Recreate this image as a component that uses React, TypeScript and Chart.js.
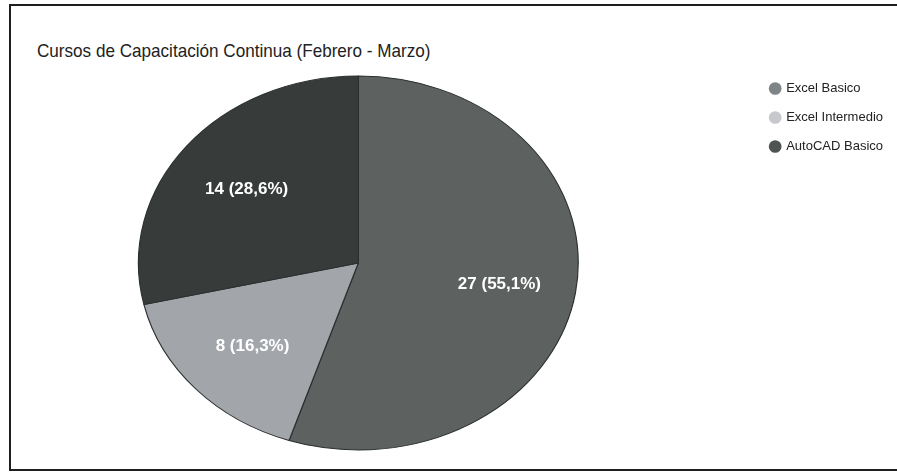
import { useEffect, useRef } from "react";
import { Chart, registerables } from "chart.js";

Chart.register(...registerables);

const titleText = "Cursos de Capacitación Continua (Febrero - Marzo)";
const categories = ["Excel Basico", "Excel Intermedio", "AutoCAD Basico"];
const values = [27, 8, 14];
const sliceColors = ["#5d6261", "#a2a5aa", "#373c3b"];
const legendColors = ["#7f8486", "#c6c8cc", "#4f5453"];

const FONT = "'Liberation Sans', Arial, Helvetica, sans-serif";
const STRETCH_X = 1.176;
const LABEL_RADIUS = 0.65;
const CANVAS_SHIFT = 38;

export default function App() {
  const ref = useRef<HTMLCanvasElement>(null);

  useEffect(() => {
    if (!ref.current) return;
    const total = values.reduce((a, b) => a + b, 0);

    const ellipsePlugin = {
      id: "ellipseAndLabels",
      beforeDatasetsDraw(chart: any) {
        const arc = chart.getDatasetMeta(0).data[0];
        const ctx = chart.ctx;
        ctx.save();
        ctx.translate(arc.x, 0);
        ctx.scale(STRETCH_X, 1);
        ctx.translate(-arc.x, 0);
      },
      afterDatasetsDraw(chart: any) {
        const ctx = chart.ctx;
        ctx.restore();
        const meta = chart.getDatasetMeta(0);
        ctx.save();
        ctx.font = `bold 17px ${FONT}`;
        ctx.fillStyle = "#ffffff";
        ctx.textAlign = "center";
        ctx.textBaseline = "middle";
        meta.data.forEach((el: any, i: number) => {
          const { x, y, startAngle, endAngle, outerRadius } = el.getProps(
            ["x", "y", "startAngle", "endAngle", "outerRadius"],
            true
          );
          const mid = (startAngle + endAngle) / 2;
          const r = outerRadius * LABEL_RADIUS;
          const lx = x + Math.cos(mid) * r * STRETCH_X;
          const ly = y + Math.sin(mid) * r + 2;
          const pct = ((values[i] / total) * 100).toFixed(1).replace(".", ",");
          ctx.fillText(`${values[i]} (${pct}%)`, lx, ly);
        });
        ctx.restore();
      },
    };

    const chart = new Chart(ref.current, {
      type: "pie",
      data: {
        labels: categories,
        datasets: [
          {
            data: values,
            backgroundColor: sliceColors,
            borderColor: "#2c3030",
            borderWidth: 1,
            radius: 187,
          },
        ],
      },
      options: {
        animation: false,
        responsive: true,
        maintainAspectRatio: false,
        layout: { padding: { top: 66, bottom: 13, left: 0, right: 4 } },
        plugins: {
          title: { display: false },
          tooltip: { enabled: false },
          legend: {
            position: "right",
            align: "start",
            labels: {
              usePointStyle: true,
              pointStyle: "circle",
              boxWidth: 9,
              boxHeight: 9,
              padding: 16,
              color: "#222222",
              font: { family: FONT, size: 13 },
              generateLabels: () =>
                categories.map((c, i) => ({
                  text: c,
                  fillStyle: legendColors[i],
                  strokeStyle: legendColors[i],
                  lineWidth: 0,
                  hidden: false,
                  index: i,
                  pointStyle: "circle",
                  fontColor: "#222222",
                })),
            },
          },
        },
      },
      plugins: [ellipsePlugin],
    });

    return () => chart.destroy();
  }, []);

  return (
    <div
      style={{
        position: "fixed",
        left: 0,
        top: 0,
        width: 897,
        height: 473,
        background: "#fff",
        overflow: "hidden",
      }}
    >
      <div
        style={{
          position: "absolute",
          left: 9,
          top: 4,
          width: 888,
          height: 467,
          boxSizing: "border-box",
          borderLeft: "2px solid #1e1e1e",
          borderTop: "2px solid #1e1e1e",
          borderBottom: "2px solid #1e1e1e",
        }}
      />
      <div
        style={{
          position: "absolute",
          left: 37,
          top: 41,
          fontFamily: FONT,
          fontSize: 19,
          lineHeight: "19px",
          color: "#222222",
          whiteSpace: "nowrap",
          transform: "scaleX(0.9)",
          transformOrigin: "0 0",
        }}
      >
        {titleText}
      </div>
      <div
        style={{
          position: "absolute",
          left: -CANVAS_SHIFT,
          top: 0,
          width: 897 + CANVAS_SHIFT,
          height: 473,
        }}
      >
        <canvas ref={ref} />
      </div>
    </div>
  );
}
